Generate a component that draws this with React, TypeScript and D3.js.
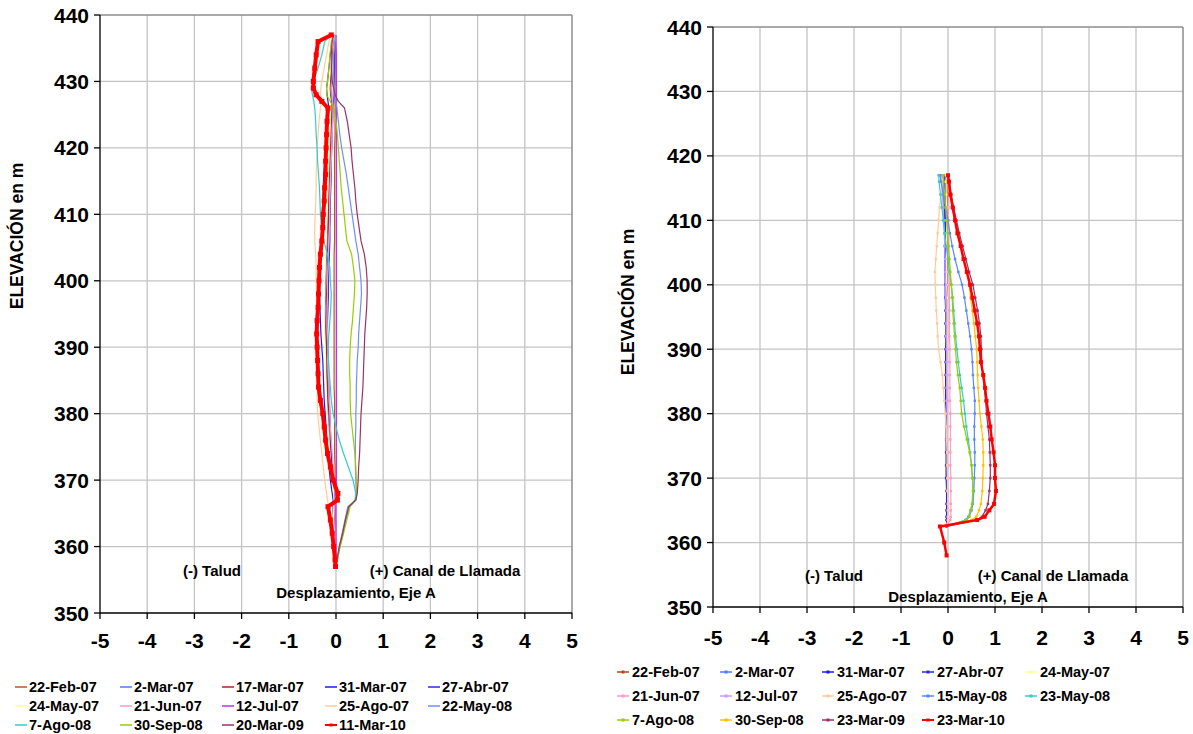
import React from 'react';
import * as d3 from 'd3';

// ---------- shared axis data ----------
const X_TICKS = [-5, -4, -3, -2, -1, 0, 1, 2, 3, 4, 5];
const Y_TICKS = [350, 360, 370, 380, 390, 400, 410, 420, 430, 440];

// ---------- LEFT chart (Eje A, inclinometer 1) ----------
const LEFT_ELEV = [437, 436, 434, 432, 430, 429, 428, 427, 426, 424, 422, 420, 418, 416, 414, 412, 410, 408, 406, 404, 402, 400, 398, 396, 394, 392, 390, 388, 386, 384, 382, 380, 378, 376, 374, 372, 370, 368, 367, 366, 364, 362, 360, 358, 357];

const L_22FEB07 = [-0.01, -0.01, -0.02, -0.02, -0.02, -0.02, -0.02, -0.02, -0.02, -0.02, -0.02, -0.03, -0.03, -0.03, -0.03, -0.03, -0.03, -0.03, -0.03, -0.04, -0.04, -0.04, -0.04, -0.04, -0.04, -0.04, -0.04, -0.04, -0.04, -0.04, -0.03, -0.03, -0.03, -0.03, -0.03, -0.02, -0.02, -0.02, -0.02, -0.02, -0.01, -0.01, -0.01, 0, 0];
const L_2MAR07 = [-0.02, -0.05, -0.07, -0.08, -0.1, -0.1, -0.09, -0.08, -0.08, -0.1, -0.12, -0.13, -0.14, -0.15, -0.15, -0.16, -0.17, -0.18, -0.19, -0.2, -0.21, -0.22, -0.22, -0.23, -0.23, -0.22, -0.21, -0.2, -0.2, -0.19, -0.18, -0.17, -0.16, -0.14, -0.12, -0.1, -0.08, -0.04, -0.03, -0.05, -0.04, -0.03, -0.02, -0.01, 0];
const L_17MAR07 = [-0.03, -0.06, -0.08, -0.1, -0.12, -0.13, -0.12, -0.1, -0.09, -0.1, -0.11, -0.12, -0.13, -0.14, -0.15, -0.15, -0.16, -0.16, -0.17, -0.18, -0.18, -0.19, -0.2, -0.2, -0.21, -0.21, -0.2, -0.2, -0.19, -0.18, -0.17, -0.15, -0.13, -0.12, -0.1, -0.08, -0.06, -0.03, -0.02, -0.04, -0.03, -0.02, -0.01, 0, 0];
const L_31MAR07 = [-0.03, -0.08, -0.12, -0.15, -0.18, -0.2, -0.19, -0.17, -0.15, -0.17, -0.2, -0.22, -0.24, -0.26, -0.27, -0.28, -0.29, -0.3, -0.31, -0.33, -0.35, -0.36, -0.35, -0.34, -0.33, -0.32, -0.3, -0.28, -0.27, -0.26, -0.25, -0.23, -0.21, -0.19, -0.17, -0.15, -0.12, -0.08, -0.06, -0.07, -0.05, -0.04, -0.03, -0.01, 0];
const L_27ABR07 = [-0.03, -0.03, -0.03, -0.03, -0.04, -0.04, -0.04, -0.05, -0.06, -0.07, -0.08, -0.09, -0.1, -0.1, -0.11, -0.12, -0.12, -0.13, -0.13, -0.14, -0.15, -0.16, -0.16, -0.17, -0.18, -0.18, -0.17, -0.16, -0.16, -0.15, -0.14, -0.13, -0.12, -0.11, -0.1, -0.08, -0.06, -0.03, -0.02, -0.04, -0.03, -0.02, -0.01, 0, 0];
const L_24MAY07 = [-0.04, -0.07, -0.1, -0.12, -0.14, -0.15, -0.14, -0.12, -0.11, -0.12, -0.13, -0.14, -0.15, -0.16, -0.17, -0.18, -0.19, -0.2, -0.21, -0.22, -0.23, -0.24, -0.24, -0.25, -0.25, -0.24, -0.23, -0.22, -0.22, -0.21, -0.2, -0.19, -0.17, -0.15, -0.13, -0.11, -0.08, -0.05, -0.04, -0.06, -0.05, -0.03, -0.02, -0.01, 0];
const L_21JUN07 = [-0.02, -0.04, -0.06, -0.07, -0.08, -0.09, -0.08, -0.07, -0.06, -0.07, -0.08, -0.09, -0.1, -0.11, -0.12, -0.13, -0.13, -0.14, -0.15, -0.16, -0.17, -0.18, -0.18, -0.19, -0.19, -0.18, -0.17, -0.16, -0.16, -0.15, -0.14, -0.13, -0.12, -0.1, -0.08, -0.06, -0.04, -0.02, 0.0, -0.03, -0.02, -0.01, 0, 0, 0];
const L_12JUL07 = [0.0, 0.0, 0.01, 0.01, 0.01, 0.01, 0.01, 0.01, 0.01, 0.01, 0.01, 0.01, 0.01, 0.01, 0.01, 0.01, 0.01, 0.01, 0.01, 0.01, 0.01, 0.01, 0.01, 0.01, 0.01, 0.01, 0.01, 0.01, 0.01, 0.01, 0.01, 0.01, 0.01, 0.01, 0.01, 0.01, 0.01, 0.01, 0.0, 0.0, 0.0, 0.0, 0.0, 0.0, 0.0];
const L_25AGO07 = [-0.1, -0.15, -0.2, -0.25, -0.3, -0.32, -0.33, -0.31, -0.33, -0.36, -0.38, -0.4, -0.41, -0.42, -0.42, -0.43, -0.44, -0.45, -0.45, -0.43, -0.42, -0.42, -0.41, -0.41, -0.41, -0.42, -0.42, -0.41, -0.4, -0.39, -0.4, -0.39, -0.36, -0.33, -0.3, -0.27, -0.24, -0.2, -0.18, -0.15, -0.1, -0.06, -0.04, -0.01, 0];
const L_22MAY08 = [0.0, -0.02, -0.05, -0.05, -0.05, -0.03, -0.02, 0.0, 0.02, 0.05, 0.08, 0.12, 0.17, 0.22, 0.26, 0.3, 0.34, 0.38, 0.42, 0.47, 0.5, 0.53, 0.54, 0.52, 0.5, 0.48, 0.47, 0.45, 0.44, 0.43, 0.43, 0.42, 0.42, 0.41, 0.41, 0.41, 0.42, 0.43, 0.42, 0.25, 0.19, 0.13, 0.07, 0.02, 0];
const L_7AGO08 = [-0.1, -0.24, -0.3, -0.38, -0.48, -0.52, -0.5, -0.47, -0.45, -0.43, -0.42, -0.4, -0.39, -0.37, -0.35, -0.34, -0.33, -0.31, -0.26, -0.18, -0.13, -0.12, -0.1, -0.11, -0.13, -0.15, -0.17, -0.16, -0.14, -0.12, -0.1, -0.06, 0.0, 0.07, 0.16, 0.26, 0.36, 0.42, 0.4, 0.28, 0.21, 0.15, 0.08, 0.03, 0];
const L_30SEP08 = [-0.05, -0.1, -0.13, -0.15, -0.18, -0.2, -0.2, -0.12, -0.05, 0.0, 0.03, 0.05, 0.07, 0.09, 0.11, 0.14, 0.17, 0.2, 0.23, 0.33, 0.37, 0.4, 0.39, 0.37, 0.35, 0.32, 0.3, 0.29, 0.29, 0.3, 0.3, 0.31, 0.34, 0.37, 0.4, 0.42, 0.43, 0.44, 0.42, 0.3, 0.23, 0.16, 0.09, 0.03, 0];
const L_20MAR09 = [-0.05, -0.08, -0.1, -0.1, -0.08, -0.05, -0.02, 0.05, 0.18, 0.24, 0.28, 0.32, 0.34, 0.37, 0.4, 0.42, 0.45, 0.49, 0.53, 0.6, 0.64, 0.66, 0.66, 0.65, 0.63, 0.61, 0.6, 0.59, 0.58, 0.57, 0.55, 0.53, 0.52, 0.51, 0.5, 0.48, 0.47, 0.45, 0.42, 0.27, 0.2, 0.14, 0.07, 0.02, 0];
const L_11MAR10 = [-0.1, -0.38, -0.42, -0.45, -0.48, -0.48, -0.42, -0.3, -0.17, -0.19, -0.2, -0.21, -0.22, -0.22, -0.24, -0.25, -0.27, -0.28, -0.3, -0.33, -0.35, -0.36, -0.37, -0.38, -0.4, -0.41, -0.4, -0.39, -0.38, -0.37, -0.33, -0.28, -0.25, -0.22, -0.18, -0.12, -0.06, 0.04, 0.03, -0.17, -0.12, -0.08, -0.05, -0.02, -0.01];

const LEFT_NAMES = ['22-Feb-07', '2-Mar-07', '17-Mar-07', '31-Mar-07', '27-Abr-07', '24-May-07', '21-Jun-07', '12-Jul-07', '25-Ago-07', '22-May-08', '7-Ago-08', '30-Sep-08', '20-Mar-09', '11-Mar-10'];
const LEFT_VALUES = [L_22FEB07, L_2MAR07, L_17MAR07, L_31MAR07, L_27ABR07, L_24MAY07, L_21JUN07, L_12JUL07, L_25AGO07, L_22MAY08, L_7AGO08, L_30SEP08, L_20MAR09, L_11MAR10];
const LEFT_COLORS = ['#c0502a', '#4a7eff', '#a0282d', '#1a1aff', '#2a2ae0', '#ffff99', '#ff99cc', '#bb33ee', '#ffcc99', '#6f8fff', '#33cccc', '#99cc00', '#993366', '#ff0000'];

// ---------- RIGHT chart (Eje A, inclinometer 2) ----------
const RIGHT_ELEV = [417, 416, 414, 412, 410, 408, 406, 404, 402, 400, 398, 396, 394, 392, 390, 388, 386, 384, 382, 380, 378, 376, 374, 372, 370, 368, 366, 365, 364, 363.5, 362.5, 360, 358];

const R_22FEB07 = [-0.02, -0.02, -0.02, -0.02, -0.02, -0.02, -0.02, -0.02, -0.02, -0.02, -0.02, -0.02, -0.02, -0.02, -0.02, -0.02, -0.02, -0.02, -0.02, -0.02, -0.02, -0.02, -0.02, -0.02, -0.02, -0.02, -0.02, -0.02, -0.02, -0.02, -0.03];
const R_2MAR07 = [-0.12, -0.11, -0.1, -0.09, -0.08, -0.07, -0.07, -0.06, -0.06, -0.05, -0.05, -0.05, -0.05, -0.04, -0.04, -0.04, -0.04, -0.03, -0.03, -0.03, -0.03, -0.02, -0.02, -0.02, -0.02, -0.01, -0.01, -0.01, -0.01, -0.01, -0.03];
const R_31MAR07 = [-0.08, -0.08, -0.07, -0.07, -0.07, -0.06, -0.06, -0.06, -0.06, -0.06, -0.06, -0.05, -0.05, -0.05, -0.05, -0.05, -0.05, -0.05, -0.05, -0.04, -0.04, -0.04, -0.04, -0.04, -0.04, -0.03, -0.03, -0.03, -0.03, -0.03, -0.03];
const R_27ABR07 = [-0.05, -0.05, -0.05, -0.05, -0.05, -0.05, -0.05, -0.04, -0.04, -0.04, -0.04, -0.04, -0.04, -0.04, -0.04, -0.04, -0.03, -0.03, -0.03, -0.03, -0.03, -0.03, -0.03, -0.03, -0.02, -0.02, -0.02, -0.02, -0.02, -0.02, -0.03];
const R_24MAY07 = [-0.04, -0.04, -0.04, -0.03, -0.03, -0.03, -0.03, -0.03, -0.03, -0.03, -0.02, -0.02, -0.02, -0.02, -0.02, -0.02, -0.02, -0.02, -0.02, -0.01, -0.01, -0.01, -0.01, -0.01, -0.01, -0.01, 0.0, 0.0, 0.0, 0.0, -0.03];
const R_21JUN07 = [0.0, 0.0, 0.01, 0.01, 0.01, 0.02, 0.02, 0.02, 0.02, 0.03, 0.03, 0.03, 0.03, 0.03, 0.04, 0.04, 0.04, 0.04, 0.04, 0.05, 0.05, 0.05, 0.05, 0.05, 0.06, 0.06, 0.06, 0.06, 0.06, 0.05, -0.03];
const R_12JUL07 = [-0.15, -0.14, -0.12, -0.1, -0.09, -0.08, -0.07, -0.06, -0.06, -0.05, -0.05, -0.04, -0.04, -0.04, -0.03, -0.03, -0.03, -0.03, -0.02, -0.02, -0.02, -0.02, -0.01, -0.01, -0.01, -0.01, 0.0, 0.0, 0.0, 0.0, -0.03];
const R_25AGO07 = [-0.1, -0.12, -0.15, -0.18, -0.2, -0.22, -0.24, -0.26, -0.28, -0.27, -0.26, -0.25, -0.23, -0.22, -0.2, -0.16, -0.12, -0.1, -0.08, -0.06, -0.04, -0.03, -0.02, -0.02, -0.01, -0.01, 0.0, 0.0, 0.0, 0.0, -0.03];
const R_15MAY08 = [-0.17, -0.15, -0.1, -0.05, 0.0, 0.04, 0.09, 0.15, 0.22, 0.3, 0.35, 0.39, 0.43, 0.47, 0.5, 0.52, 0.53, 0.55, 0.57, 0.57, 0.56, 0.56, 0.57, 0.57, 0.56, 0.55, 0.53, 0.5, 0.45, 0.38, -0.03];
const R_23MAY08 = [-0.2, -0.19, -0.16, -0.13, -0.1, -0.07, -0.04, 0.0, 0.03, 0.07, 0.1, 0.12, 0.14, 0.16, 0.19, 0.22, 0.25, 0.29, 0.33, 0.36, 0.39, 0.43, 0.47, 0.5, 0.52, 0.54, 0.52, 0.48, 0.43, 0.37, -0.03];
const R_7AGO08 = [-0.1, -0.09, -0.07, -0.05, -0.03, -0.01, 0.01, 0.03, 0.05, 0.07, 0.09, 0.1, 0.12, 0.14, 0.16, 0.18, 0.21, 0.25, 0.27, 0.29, 0.34, 0.4, 0.46, 0.5, 0.52, 0.53, 0.51, 0.48, 0.45, 0.4, -0.03];
const R_30SEP08 = [-0.02, 0.0, 0.04, 0.09, 0.15, 0.22, 0.28, 0.34, 0.4, 0.45, 0.48, 0.52, 0.55, 0.58, 0.61, 0.62, 0.63, 0.64, 0.66, 0.68, 0.71, 0.74, 0.75, 0.75, 0.74, 0.73, 0.7, 0.66, 0.6, 0.5, -0.03];
const R_23MAR09 = [0.0, 0.03, 0.07, 0.12, 0.18, 0.24, 0.31, 0.38, 0.45, 0.53, 0.58, 0.63, 0.67, 0.7, 0.71, 0.72, 0.74, 0.77, 0.8, 0.82, 0.85, 0.88, 0.89, 0.9, 0.9, 0.88, 0.85, 0.8, 0.72, 0.62, -0.03];
const R_23MAR10 = [0.0, 0.02, 0.05, 0.1, 0.15, 0.2, 0.27, 0.33, 0.4, 0.47, 0.52, 0.57, 0.62, 0.66, 0.68, 0.7, 0.75, 0.79, 0.82, 0.86, 0.9, 0.93, 0.97, 1.0, 1.0, 1.02, 0.98, 0.88, 0.78, 0.62, -0.17, -0.08, -0.03];

const RIGHT_NAMES = ['22-Feb-07', '2-Mar-07', '31-Mar-07', '27-Abr-07', '24-May-07', '21-Jun-07', '12-Jul-07', '25-Ago-07', '15-May-08', '23-May-08', '7-Ago-08', '30-Sep-08', '23-Mar-09', '23-Mar-10'];
const RIGHT_VALUES = [R_22FEB07, R_2MAR07, R_31MAR07, R_27ABR07, R_24MAY07, R_21JUN07, R_12JUL07, R_25AGO07, R_15MAY08, R_23MAY08, R_7AGO08, R_30SEP08, R_23MAR09, R_23MAR10];
const RIGHT_COLORS = ['#b8461e', '#4a7eff', '#1a1aff', '#2a2ae0', '#ffff99', '#ff99cc', '#cc99ff', '#ffcc99', '#5b86ff', '#33cccc', '#99cc00', '#ffc000', '#993366', '#ff0000'];

const FONT = '"Liberation Sans", Arial, Helvetica, sans-serif';

type Layout = {
  l: number; r: number; t: number; b: number;
  xLabelY: number; yTitleX: number; yTitleY: number;
  ann: { minus: [number, number]; plus: [number, number]; title: [number, number] };
  legCols: number[]; legRows: number[]; legText: number;
  bigRed: boolean;
};

function Chart({ elev, names, values, colors, L }: { elev: number[]; names: string[]; values: number[][]; colors: string[]; L: Layout }) {
  const x = d3.scaleLinear().domain([-5, 5]).range([L.l, L.r]);
  const y = d3.scaleLinear().domain([350, 440]).range([L.b, L.t]);
  const lastIdx = values.length - 1;

  return (
    <g>
      {/* grid */}
      {X_TICKS.filter((t) => t > -5 && t < 5).map((t) => (
        <line key={'gx' + t} x1={x(t)} x2={x(t)} y1={L.t} y2={L.b} stroke="#c4c4c4" strokeWidth={1.3} />
      ))}
      {Y_TICKS.filter((t) => t > 350 && t < 440).map((t) => (
        <line key={'gy' + t} x1={L.l} x2={L.r} y1={y(t)} y2={y(t)} stroke="#c4c4c4" strokeWidth={1.3} />
      ))}
      {/* plot border top/right */}
      <line x1={L.l} x2={L.r} y1={L.t} y2={L.t} stroke="#8c8c8c" strokeWidth={1.5} />
      <line x1={L.r} x2={L.r} y1={L.t} y2={L.b} stroke="#8c8c8c" strokeWidth={1.5} />

      {/* series */}
      {values.map((vals, si) => {
        const pts = vals.map((v, i) => [x(v), y(elev[i])] as [number, number]);
        const path = d3.line()(pts) || '';
        const isRed = si === lastIdx;
        const sw = isRed ? (L.bigRed ? 4 : 2.5) : 1.2;
        return (
          <g key={names[si]}>
            <path d={path} fill="none" stroke={colors[si]} strokeWidth={sw} strokeLinejoin="round" />
            {isRed && pts.map((p, i) => {
              const s = L.bigRed ? 5 : 4;
              return <rect key={i} x={p[0] - s / 2} y={p[1] - s / 2} width={s} height={s} fill={colors[si]} />;
            })}
            {!L.bigRed && !isRed && pts.map((p, i) => (
              <rect key={i} x={p[0] - 1.2} y={p[1] - 1.2} width={2.4} height={2.4} fill={colors[si]} />
            ))}
          </g>
        );
      })}

      {/* axes */}
      <line x1={L.l} x2={L.l} y1={L.t} y2={L.b} stroke="#000" strokeWidth={1.3} />
      <line x1={L.l} x2={L.r} y1={L.b} y2={L.b} stroke="#000" strokeWidth={1.3} />
      {Y_TICKS.map((t) => (
        <g key={'yt' + t}>
          <line x1={L.l - 6} x2={L.l} y1={y(t)} y2={y(t)} stroke="#000" strokeWidth={1.3} />
          <text x={L.l - 11} y={y(t) + 7.5} textAnchor="end" fontFamily={FONT} fontWeight="bold" fontSize={21} fill="#000">{t}</text>
        </g>
      ))}
      {X_TICKS.map((t) => (
        <g key={'xt' + t}>
          <line x1={x(t)} x2={x(t)} y1={L.b} y2={L.b + 6} stroke="#000" strokeWidth={1.3} />
          <text x={x(t)} y={L.xLabelY} textAnchor="middle" fontFamily={FONT} fontWeight="bold" fontSize={21} fill="#000">{t}</text>
        </g>
      ))}

      {/* y title */}
      <text transform={`translate(${L.yTitleX},${L.yTitleY}) rotate(-90)`} textAnchor="middle" dominantBaseline="central" fontFamily={FONT} fontWeight="bold" fontSize={17.5} fill="#000">ELEVACIÓN en m</text>

      {/* annotations */}
      <text x={L.ann.minus[0]} y={L.ann.minus[1]} textAnchor="middle" fontFamily={FONT} fontWeight="bold" fontSize={15} fill="#000">(-) Talud</text>
      <text x={L.ann.plus[0]} y={L.ann.plus[1]} textAnchor="middle" fontFamily={FONT} fontWeight="bold" fontSize={15} fill="#000">(+) Canal de Llamada</text>
      <text x={L.ann.title[0]} y={L.ann.title[1]} textAnchor="middle" fontFamily={FONT} fontWeight="bold" fontSize={15} fill="#000">Desplazamiento, Eje A</text>

      {/* legend */}
      {names.map((n, i) => {
        const cx = L.legCols[i % 5];
        const cy = L.legRows[Math.floor(i / 5)];
        const isRed = i === lastIdx;
        return (
          <g key={'lg' + n}>
            <line x1={cx} x2={cx + 12} y1={cy} y2={cy} stroke={colors[i]} strokeWidth={isRed ? 2 : 1.5} />
            {(isRed || !L.bigRed) && <rect x={cx + 4.5} y={cy - 1.5} width={3} height={3} fill={colors[i]} />}
            <text x={cx + L.legText} y={cy + 5} fontFamily={FONT} fontWeight="bold" fontSize={14.5} fill="#000">{n}</text>
          </g>
        );
      })}
    </g>
  );
}

const LEFT_LAYOUT: Layout = {
  l: 100, r: 572, t: 15, b: 613,
  xLabelY: 648, yTitleX: 17, yTitleY: 236,
  ann: { minus: [212, 576], plus: [445, 576], title: [356, 598] },
  legCols: [15, 120, 222, 325, 428], legRows: [687, 706, 725], legText: 14,
  bigRed: true,
};

const RIGHT_LAYOUT: Layout = {
  l: 713, r: 1183, t: 27, b: 607,
  xLabelY: 645, yTitleX: 628, yTitleY: 302,
  ann: { minus: [834, 581], plus: [1053, 581], title: [968, 602] },
  legCols: [617, 720, 822, 922, 1025], legRows: [672, 696, 720], legText: 15,
  bigRed: false,
};

export default function App() {
  return (
    <svg width={1193} height={734} style={{ position: 'absolute', left: 0, top: 0, background: '#fff' }}>
      <rect x={0} y={0} width={1193} height={734} fill="#fff" />
      <Chart elev={LEFT_ELEV} names={LEFT_NAMES} values={LEFT_VALUES} colors={LEFT_COLORS} L={LEFT_LAYOUT} />
      <Chart elev={RIGHT_ELEV} names={RIGHT_NAMES} values={RIGHT_VALUES} colors={RIGHT_COLORS} L={RIGHT_LAYOUT} />
    </svg>
  );
}
